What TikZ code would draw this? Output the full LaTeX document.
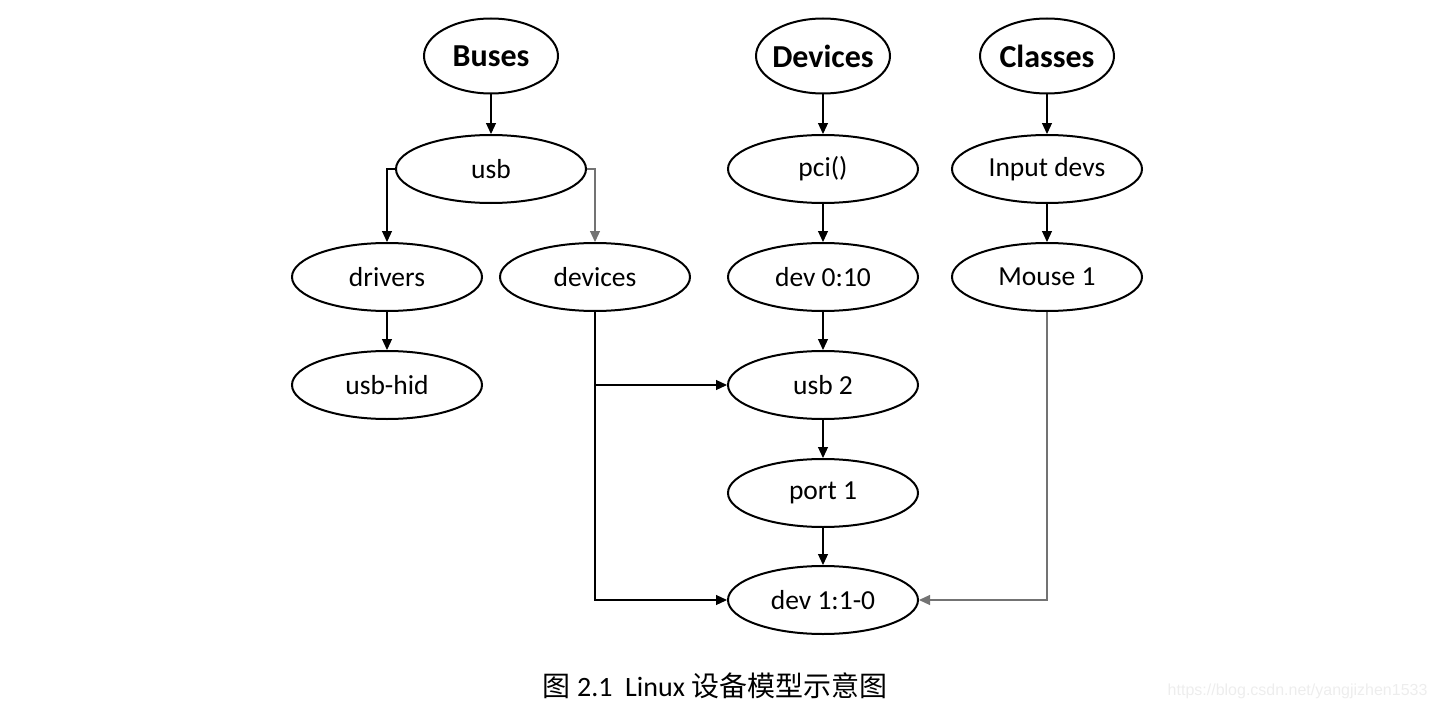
\documentclass[tikz,border=0pt]{standalone}
\usepackage{fontspec}
\setmainfont{Carlito}
\newfontfamily\cjk{Noto Sans CJK SC}
\newfontfamily\wmfont{Liberation Sans}
\usetikzlibrary{shapes.geometric,arrows.meta}
\begin{document}
\begin{tikzpicture}[x=1pt,y=-1pt,
  ell/.style={ellipse,draw,line width=2pt,inner sep=0pt,minimum width=190pt,minimum height=68pt,font=\fontsize{27.5}{30}\selectfont},
  topell/.style={ellipse,draw,line width=2pt,inner ysep=0pt,inner xsep=-6pt,minimum width=134pt,minimum height=75pt,font=\fontsize{32}{34}\selectfont\bfseries},
  conn/.style={line width=1.2pt,-{Triangle[length=11pt,width=10pt]}},
  graycon/.style={conn,draw=black!55}]
\useasboundingbox (0,0) rectangle (1436,709);
\node[topell] (buses) at (491,56) {Buses};
\node[topell] (devs) at (823,56) {Devices};
\node[topell] (classes) at (1047,56) {Classes};
\node[ell] (usb) at (491,169) {usb};
\node[ell] (pci) at (823,169) {pci()};
\node[ell] (input) at (1047,169) {Input devs};
\node[ell] (drivers) at (387,277) {drivers};
\node[ell] (devices) at (595,277) {devices};
\node[ell] (dev010) at (823,277) {dev 0:10};
\node[ell] (mouse) at (1047,277) {Mouse 1};
\node[ell] (usbhid) at (387,385) {usb-hid};
\node[ell] (usb2) at (823,385) {usb 2};
\node[ell] (port) at (823,493) {port 1};
\node[ell] (dev110) at (823,600) {dev 1:1-0};
\node (caption) at (715,686) {\fontsize{28}{30}\selectfont\cjk 图\rmfamily\ 2.1\ \ Linux \cjk 设备模型示意图};
\node[anchor=east,text=black!7,font=\wmfont\fontsize{16}{18}\selectfont] (wm) at (1431,691) {https://blog.csdn.net/yangjizhen1533};
\coordinate (ul) at (387,169);
\coordinate (ur) at (595,169);
\coordinate (dj) at (595,385);
\coordinate (db) at (595,600);
\coordinate (mb) at (1047,600);
\draw[conn] (buses) -- (usb);
\draw[conn] (devs) -- (pci);
\draw[conn] (classes) -- (input);
\draw[conn] (usb.west) -- (ul) -- (drivers.north);
\draw[graycon] (usb.east) -- (ur) -- (devices.north);
\draw[conn] (drivers) -- (usbhid);
\draw[conn] (pci) -- (dev010);
\draw[conn] (dev010) -- (usb2);
\draw[conn] (usb2) -- (port);
\draw[conn] (port) -- (dev110);
\draw[conn] (input) -- (mouse);
\draw[conn] (devices.south) -- (db) -- (dev110.west);
\draw[conn] (dj) -- (usb2.west);
\draw[graycon] (mouse.south) -- (mb) -- (dev110.east);
\end{tikzpicture}
\end{document}
